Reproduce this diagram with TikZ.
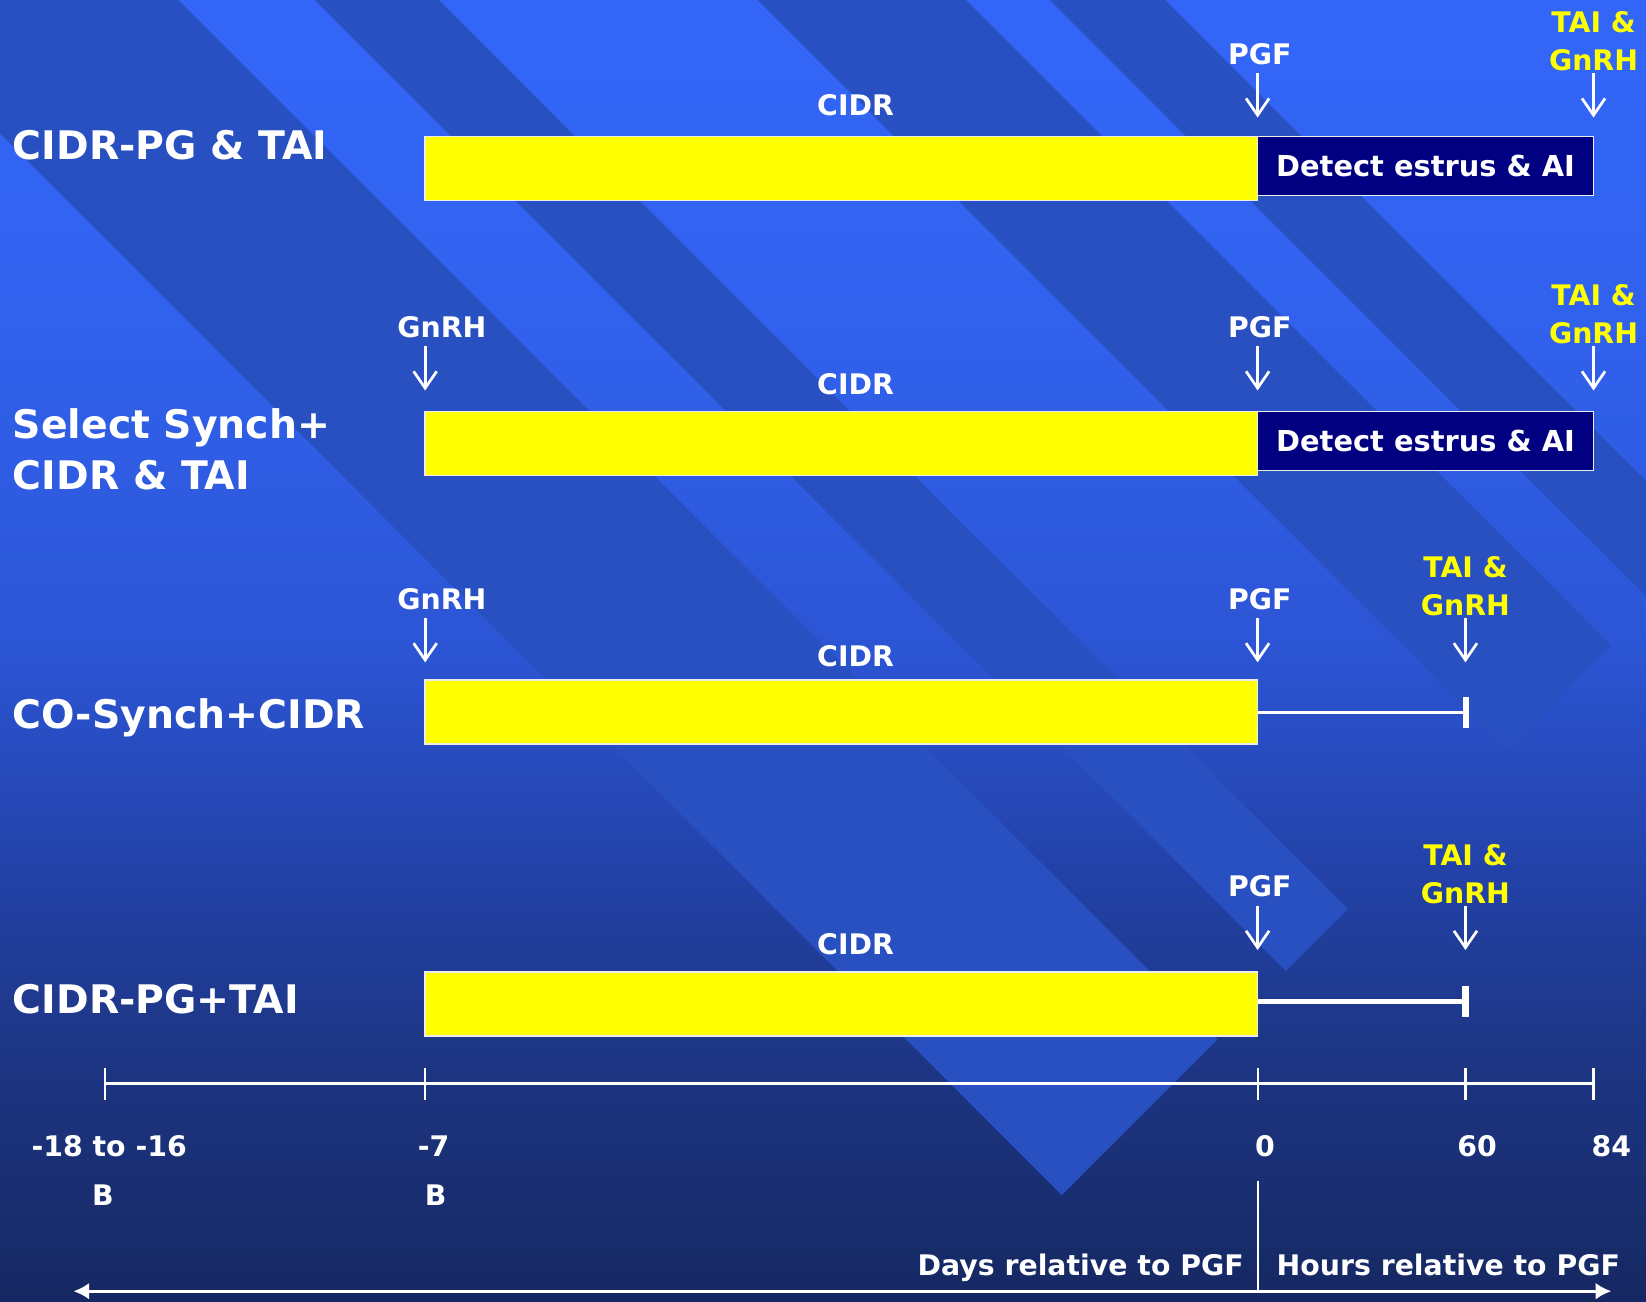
\documentclass[tikz,border=0pt]{standalone}
\usepackage{fontspec}
\setmainfont{DejaVu Sans}
\usetikzlibrary{positioning,arrows.meta}

\definecolor{bgtop}{HTML}{3366F8}
\definecolor{bgupper}{HTML}{3162EE}
\definecolor{bgmid}{HTML}{2C55D4}
\definecolor{bglow}{HTML}{2444AE}
\definecolor{bgdeep}{HTML}{1D3685}
\definecolor{bgbottom}{HTML}{162862}
\definecolor{bandblue}{HTML}{2850C0}
\definecolor{cidryellow}{HTML}{FFFF00}
\definecolor{detectnavy}{HTML}{000080}
\definecolor{taiyellow}{HTML}{FFFF00}

\pgfdeclareverticalshading{slidefade}{100bp}{color(0bp)=(bgbottom); color(25bp)=(bgbottom); color(34.7bp)=(bgdeep); color(42.7bp)=(bglow); color(50bp)=(bgmid); color(62.9bp)=(bgupper); color(75bp)=(bgtop); color(100bp)=(bgtop)}

\tikzset{
  cidrbar/.style={draw=white!85!gray, line width=1.5pt, fill=cidryellow, minimum width=793pt, minimum height=61pt, inner sep=0, outer sep=0, anchor=north west},
  detectbox/.style={draw=white!85!gray, line width=1.2pt, fill=detectnavy, text=white, minimum width=320pt, minimum height=56pt, inner sep=0, outer sep=0, anchor=north west, font=\fontsize{27.5}{32}\selectfont\bfseries},
  rowlab/.style={text=white, align=left, inner sep=0, font=\fontsize{37.5}{48}\selectfont\bfseries},
  smalllab/.style={text=white, inner sep=0, font=\fontsize{27}{36}\selectfont\bfseries},
  tailab/.style={smalllab, text=taiyellow, align=center},
  shot/.style={white, line width=2.6pt, -{Straight Barb[length=16pt,width=22pt]}},
  tailine/.style={white, line width=3.2pt, -{Bar[width=30pt,line width=5.5pt]}},
}

\begin{document}
\begin{tikzpicture}[x=1pt, y=-1pt]
\useasboundingbox (0,0) rectangle (1568,1240);
\shade[shading=slidefade] (0,0) rectangle (1568,1240);
\begin{scope}
  \clip (0,0) rectangle (1568,1240);
  \fill[bandblue] (-127,0) -- (170,0) -- (1160,990) -- (1011.5,1138.5) -- cycle;
  \fill[bandblue] (300,0) -- (418,0) -- (1284,866) -- (1225,925) -- cycle;
  \fill[bandblue] (722,0) -- (920,0) -- (1535,615) -- (1436,714) -- cycle;
  \fill[bandblue] (1000,0) -- (1110,0) -- (1630,520) -- (1575,575) -- cycle;
\end{scope}

% CIDR-PG & TAI
\node[rowlab, anchor=base west] (protoA) at (12,151.5) {CIDR-PG \& TAI};
\node[cidrbar] (cidrA) at (405,130) {};
\node[detectbox] (detectA) at (cidrA.north east) {Detect estrus \& AI};
\node[smalllab] (insertA) at (815,100) {CIDR};
\coordinate (pgfA) at (1198,112);
\coordinate (taiA) at (1518,112);
\node[smalllab, above=50pt of pgfA, xshift=2pt] (pgflabA) {PGF};
\node[tailab, above=44pt of taiA] (tailabA) {TAI \&\\GnRH};
\draw[shot, shorten <=8pt] (pgflabA.south -| pgfA) -- (pgfA);
\draw[shot, shorten <=2pt] (tailabA.south -| taiA) -- (taiA);

% Select Synch+CIDR & TAI
\node[rowlab, anchor=west] (protoB) at (12,428) {Select Synch+\\CIDR \& TAI};
\node[cidrbar] (cidrB) at (405,392) {};
\node[detectbox] (detectB) at (cidrB.north east) {Detect estrus \& AI};
\node[smalllab] (insertB) at (815,366) {CIDR};
\coordinate (gnrhB) at (405,372);
\coordinate (pgfB) at (1198,372);
\coordinate (taiB) at (1518,372);
\node[smalllab, above=50pt of gnrhB, xshift=16pt] (gnrhlabB) {GnRH};
\node[smalllab, above=50pt of pgfB, xshift=2pt] (pgflabB) {PGF};
\node[tailab, above=44pt of taiB] (tailabB) {TAI \&\\GnRH};
\draw[shot, shorten <=8pt] (gnrhlabB.south -| gnrhB) -- (gnrhB);
\draw[shot, shorten <=8pt] (pgflabB.south -| pgfB) -- (pgfB);
\draw[shot, shorten <=2pt] (tailabB.south -| taiB) -- (taiB);

% CO-Synch+CIDR
\node[rowlab, anchor=base west] (protoC) at (12,693.5) {CO-Synch+CIDR};
\node[cidrbar] (cidrC) at (405,648) {};
\node[smalllab] (insertC) at (815,625) {CIDR};
\coordinate (gnrhC) at (405,631);
\coordinate (pgfC) at (1198,631);
\coordinate (taiC) at (1396,631);
\coordinate (endC) at (1399,678.5);
\node[smalllab, above=50pt of gnrhC, xshift=16pt] (gnrhlabC) {GnRH};
\node[smalllab, above=50pt of pgfC, xshift=2pt] (pgflabC) {PGF};
\node[tailab, above=44pt of taiC] (tailabC) {TAI \&\\GnRH};
\draw[shot, shorten <=8pt] (gnrhlabC.south -| gnrhC) -- (gnrhC);
\draw[shot, shorten <=8pt] (pgflabC.south -| pgfC) -- (pgfC);
\draw[shot, shorten <=2pt] (tailabC.south -| taiC) -- (taiC);
\draw[tailine] (cidrC.east) -- (endC);

% CIDR-PG+TAI
\node[rowlab, anchor=base west] (protoD) at (12,965.5) {CIDR-PG+TAI};
\node[cidrbar] (cidrD) at (405,926) {};
\node[smalllab] (insertD) at (815,899) {CIDR};
\coordinate (pgfD) at (1198,905);
\coordinate (taiD) at (1396,905);
\coordinate (endD) at (1399,954);
\node[smalllab, above=50pt of pgfD, xshift=2pt] (pgflabD) {PGF};
\node[tailab, above=44pt of taiD] (tailabD) {TAI \&\\GnRH};
\draw[shot, shorten <=8pt] (pgflabD.south -| pgfD) -- (pgfD);
\draw[shot, shorten <=2pt] (tailabD.south -| taiD) -- (taiD);
\draw[tailine, line width=4.6pt, -{Bar[width=30pt,line width=6pt]}] (cidrD.east |- endD) -- (endD);

% time axis
\coordinate (dayA) at (100,1032);
\coordinate (dayB) at (405,1032);
\coordinate (dayC) at (1198,1032);
\coordinate (hourA) at (1396,1032);
\coordinate (hourB) at (1518,1032);
\draw[white, line width=3.5pt] (dayA) -- (hourB);
\foreach \t in {dayA,dayB,dayC,hourA,hourB}
  \draw[white, line width=2pt] ([yshift=15pt]\t) -- ([yshift=-16pt]\t);
\node[smalllab, anchor=base] (numA) at (104,1102) {-18 to -16};
\node[smalllab, anchor=base] (numB) at (413,1102) {-7};
\node[smalllab, anchor=base] (numC) at (1205,1102) {0};
\node[smalllab, anchor=base] (numD) at (1407,1102) {60};
\node[smalllab, anchor=base] (numE) at (1535,1102) {84};
\node[smalllab, anchor=base] (bullA) at (98,1148) {B};
\node[smalllab, anchor=base] (bullB) at (415,1148) {B};

\coordinate (splitTop) at (1198,1125);
\coordinate (splitBot) at (1198,1230);
\coordinate (spanL) at (70,1230);
\coordinate (spanR) at (1535,1230);
\draw[white, line width=2pt] (splitTop) -- (splitBot);
\draw[white, line width=2.5pt, {Latex[length=15pt,width=16pt]}-{Latex[length=15pt,width=16pt]}] (spanL) -- (spanR);
\node[smalllab, anchor=base east] (daysLab) at (1185,1215) {Days relative to PGF};
\node[smalllab, anchor=base west] (hoursLab) at (1216,1215) {Hours relative to PGF};
\end{tikzpicture}
\end{document}
